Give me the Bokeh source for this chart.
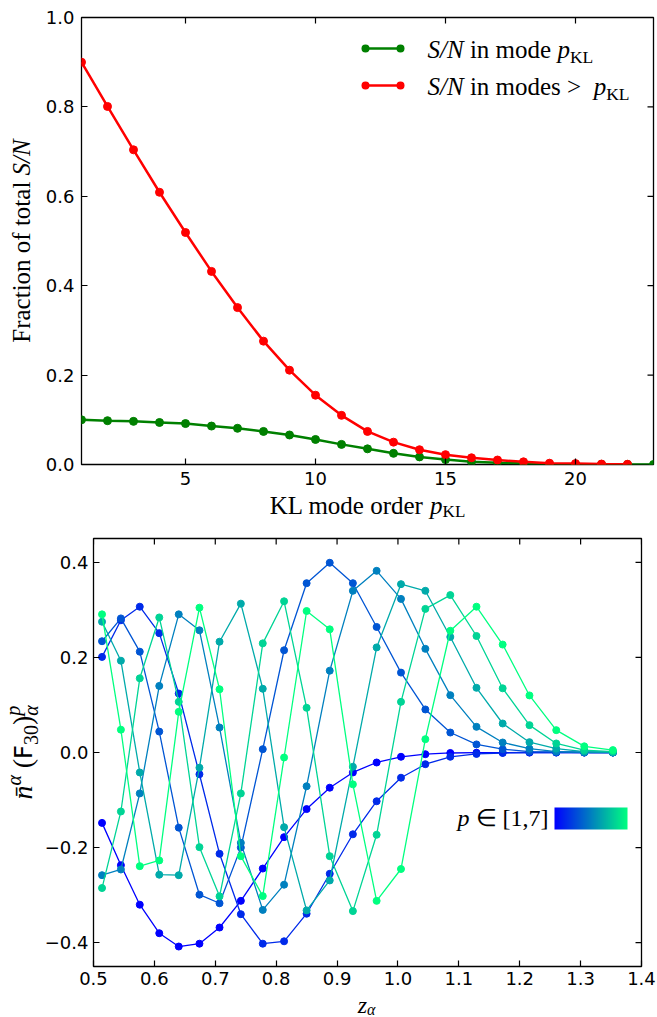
import math
from bokeh.plotting import figure
from bokeh.layouts import column, row
from bokeh.models import (Range1d, FixedTicker, Label, Arrow,
                          BoxAnnotation, ColorBar, LinearColorMapper)
from bokeh.embed import file_html
from bokeh.resources import INLINE

# ---------------- data: top panel ----------------
kl_mode_order = list(range(1, 24))
sn_in_mode = [0.100, 0.098, 0.0965, 0.094, 0.0916, 0.086, 0.081, 0.074, 0.066,
              0.056, 0.045, 0.035, 0.025, 0.017, 0.011, 0.006, 0.004, 0.002,
              0.001, 0.0005, 0.0003, 0.0002, 0.0001]
kl_mode_order_above = list(range(1, 23))
sn_in_modes_above = [0.900, 0.801, 0.704, 0.609, 0.519, 0.432, 0.351, 0.276,
                     0.211, 0.155, 0.110, 0.074, 0.050, 0.033, 0.022, 0.015,
                     0.010, 0.006, 0.003, 0.002, 0.001, 0.0005]
top_x_ticks = [5, 10, 15, 20]
top_y_ticks = [0.0, 0.2, 0.4, 0.6, 0.8, 1.0]

# ---------------- data: bottom panel ----------------
z_alpha = [0.514, 0.545, 0.576, 0.608, 0.640, 0.674, 0.707, 0.742, 0.778, 0.813,
           0.850, 0.888, 0.926, 0.965, 1.005, 1.045, 1.086, 1.129, 1.172, 1.216,
           1.260, 1.306, 1.353]
mode_p1 = [-0.148, -0.237, -0.320, -0.380, -0.408, -0.402, -0.368, -0.312, -0.244,
           -0.178, -0.119, -0.074, -0.042, -0.021, -0.009, -0.0036, -0.001,
           -0.0004, -0.0001, 0.0, 0.0, 0.0, 0.0]
mode_p2 = [0.201, 0.278, 0.3066, 0.251, 0.124, -0.0457, -0.213, -0.340, -0.402,
           -0.397, -0.339, -0.255, -0.172, -0.1025, -0.053, -0.0246, -0.009,
           -0.003, -0.001, 0.0, 0.0, 0.0, 0.0]
mode_p3 = [0.234, 0.282, 0.212, 0.044, -0.158, -0.299, -0.317, -0.200, 0.007,
           0.215, 0.356, 0.399, 0.356, 0.264, 0.168, 0.0905, 0.042, 0.017, 0.007,
           0.002, 0.001, 0.0, 0.0]
mode_p4 = [-0.258, -0.246, -0.086, 0.140, 0.2905, 0.257, 0.0526, -0.190, -0.331,
           -0.278, -0.071, 0.172, 0.340, 0.382, 0.323, 0.218, 0.1206, 0.054,
           0.021, 0.008, 0.002, 0.0005, 0.0]
mode_p5 = [0.275, 0.193, -0.042, -0.257, -0.258, -0.032, 0.233, 0.313, 0.134,
           -0.157, -0.332, -0.269, -0.030, 0.221, 0.354, 0.340, 0.243, 0.136,
           0.061, 0.0217, 0.008, 0.002, 0.0005]
mode_p6 = [-0.285, -0.124, 0.156, 0.284, 0.1065, -0.199, -0.3025, -0.086, 0.2295,
           0.318, 0.094, -0.218, -0.3335, -0.173, 0.1065, 0.302, 0.331, 0.245,
           0.135, 0.0575, 0.019, 0.005, 0.002]
mode_p7 = [0.2905, 0.048, -0.239, -0.227, 0.0855, 0.3045, 0.133, -0.218, -0.302,
           -0.0105, 0.2975, 0.259, -0.067, -0.312, -0.245, 0.028, 0.256, 0.3066,
           0.227, 0.120, 0.047, 0.013, 0.005]
mode_p = [1, 2, 3, 4, 5, 6, 7]
modes = [mode_p1, mode_p2, mode_p3, mode_p4, mode_p5, mode_p6, mode_p7]
bottom_x_ticks = [0.5, 0.6, 0.7, 0.8, 0.9, 1.0, 1.1, 1.2, 1.3, 1.4]
bottom_y_ticks = [-0.4, -0.2, 0.0, 0.2, 0.4]

# ---------------- styles ----------------
GREEN = "#008000"
RED = "#ff0000"
SERIF = "Liberation Serif"
TICK_FONT = "DejaVu Sans"
BASELINE_FIX = 0.32   # measured drop of Label text below its nominal baseline (x font size)


def winter(t):
    g = int(round(255 * t))
    b = int(round(255 * (1 - 0.5 * t)))
    return "#%02x%02x%02x" % (0, g, b)


WINTER = [winter(i / 255.0) for i in range(256)]

TIMES_R = {' ': 250, '(': 333, ')': 333, '/': 278, '>': 564, ',': 250, '[': 333,
           ']': 333, '\u2208': 667, 'K': 722, 'L': 611, 'F': 556, 'S': 556,
           'N': 722, 'a': 444, 'c': 444, 'd': 500, 'e': 444, 'f': 333, 'i': 278,
           'l': 278, 'm': 778, 'n': 500, 'o': 500, 'p': 500, 'r': 333, 's': 389,
           't': 278, 'u': 500}
for _d in "0123456789":
    TIMES_R[_d] = 500
TIMES_I = {' ': 250, 'S': 500, 'N': 667, '/': 278, 'p': 500, 'n': 500, 'z': 389,
           '\u03b1': 520, '\u0304': 0}
SANS = {'F': 575, ' ': 318}


def text_width(text, s):
    font = s.get("font", SERIF)
    if font != SERIF:
        tbl = SANS
    elif s.get("italic"):
        tbl = TIMES_I
    else:
        tbl = TIMES_R
    return sum(tbl.get(ch, 500) for ch in text) * s["size"] / 1000.0


def rich_text(fig, segs, x, y, angle=0.0, anchor="center"):
    """Place a run of text pieces; (x, y) = baseline anchor in frame px, y up."""
    widths = [text_width(s["text"], s) for s in segs]
    total = sum(w for s, w in zip(segs, widths) if s.get("advance", True))
    if anchor == "center":
        cur = -total / 2.0
    elif anchor == "right":
        cur = -total
    else:
        cur = 0.0
    for s, w in zip(segs, widths):
        raw = s["text"]
        body = raw.strip(" ")
        lead = text_width(raw[:len(raw) - len(raw.lstrip(" "))], s)
        shift = s.get("shift", 0.0) + BASELINE_FIX * s["size"]
        pos = cur + lead
        if angle == 0:
            lx, ly = x + pos, y + shift
        else:
            lx, ly = x - shift, y + pos
        fig.add_layout(Label(
            x=lx, y=ly, x_units="screen", y_units="screen", text=body,
            angle=angle, text_font=s.get("font", SERIF),
            text_font_size="%gpx" % s["size"],
            text_font_style="italic" if s.get("italic") else "normal",
            text_color="black", text_align="left", text_baseline="alphabetic"))
        if s.get("advance", True):
            cur += w


def style_fig(p, xticks, yticks, xlabels, ylabels, xr, yr, fw, fh, standoff=8):
    p.grid.visible = False
    p.outline_line_color = "black"
    p.outline_line_width = 1.3
    p.background_fill_color = "white"
    p.border_fill_color = "white"
    for ax, ticks, labels in ((p.xaxis[0], xticks, xlabels), (p.yaxis[0], yticks, ylabels)):
        ax.ticker = FixedTicker(ticks=ticks)
        ax.major_label_overrides = labels
        ax.major_label_text_font = TICK_FONT
        ax.major_label_text_font_size = "18px"
        ax.major_label_text_color = "black"
        ax.major_label_standoff = standoff
        ax.major_tick_in = 6
        ax.major_tick_out = 0
        ax.major_tick_line_color = "black"
        ax.major_tick_line_width = 1.2
        ax.minor_tick_line_color = None
        ax.axis_line_color = None
    # mirrored inward ticks on the top and right edges
    tick_len = 6.0
    dy = (yr[1] - yr[0]) / fh * tick_len
    dx = (xr[1] - xr[0]) / fw * tick_len
    p.segment(x0=xticks, y0=[yr[1]] * len(xticks), x1=xticks,
              y1=[yr[1] - dy] * len(xticks), line_color="black", line_width=1.2)
    p.segment(x0=[xr[1]] * len(yticks), y0=yticks, x1=[xr[1] - dx] * len(yticks),
              y1=yticks, line_color="black", line_width=1.2)


def fmt(v):
    return ("%.1f" % v).replace("-", "\u2212")


def label_fig(w, h):
    f = figure(width=w, height=h, x_range=Range1d(0, 1), y_range=Range1d(0, 1),
               x_axis_type=None, y_axis_type=None, output_backend="svg",
               toolbar_location=None, min_border=0)
    f.outline_line_color = None
    f.background_fill_color = "white"
    f.border_fill_color = "white"
    return f


# ---------------- top figure ----------------
TOP_XR, TOP_YR = (1, 23), (0, 1)
p1 = figure(width=617, height=492, x_range=Range1d(*TOP_XR), y_range=Range1d(*TOP_YR),
            output_backend="svg", toolbar_location=None,
            min_border_left=41, min_border_right=4, min_border_top=17,
            min_border_bottom=28)
style_fig(p1, top_x_ticks, top_y_ticks,
          {t: str(t) for t in top_x_ticks}, {t: fmt(t) for t in top_y_ticks},
          TOP_XR, TOP_YR, 572, 447, standoff=7)

p1.line(kl_mode_order, sn_in_mode, line_color=GREEN, line_width=2.5)
p1.scatter(kl_mode_order, sn_in_mode, size=8, fill_color=GREEN, line_color=GREEN)
p1.line(kl_mode_order_above, sn_in_modes_above, line_color=RED, line_width=2.5)
p1.scatter(kl_mode_order_above, sn_in_modes_above, size=8, fill_color=RED, line_color=RED)

# legend (frame-relative screen px)
legend_rows = [
    (GREEN, 416, 407, [dict(text="S/N", size=25, italic=True),
                       dict(text=" in mode ", size=25),
                       dict(text="p", size=25, italic=True),
                       dict(text="KL", size=17.5, shift=-5)]),
    (RED, 379, 370, [dict(text="S/N", size=25, italic=True),
                     dict(text=" in modes  > ", size=25),
                     dict(text="p", size=25, italic=True),
                     dict(text="KL", size=17.5, shift=-5)]),
]
for color, ly, by, segs in legend_rows:
    p1.add_layout(Arrow(x_start=284, y_start=ly, x_end=319, y_end=ly,
                        start_units="screen", end_units="screen", start=None, end=None,
                        line_color=color, line_width=2.5))
    for cx in (284, 319):
        p1.add_layout(BoxAnnotation(left=cx - 4, right=cx + 4, bottom=ly - 4, top=ly + 4,
                                    left_units="screen", right_units="screen",
                                    bottom_units="screen", top_units="screen",
                                    fill_color=color, fill_alpha=1.0, line_color=None,
                                    border_radius=4))
    rich_text(p1, segs, 346, by, anchor="left")

# y label strip (its frame is aligned with p1's frame: 447 px tall)
ylab1 = label_fig(40, 492)
rich_text(ylab1, [dict(text="Fraction of total ", size=25),
                  dict(text="S/N", size=25, italic=True)],
          29.3, 223.5, angle=math.pi / 2)
xlab1 = label_fig(657, 28)
rich_text(xlab1, [dict(text="KL mode order ", size=25),
                  dict(text="p", size=25, italic=True),
                  dict(text="KL", size=17, shift=-3.5)],
          367, 7)

# ---------------- bottom figure ----------------
BOT_XR, BOT_YR = (0.5, 1.4), (-0.45, 0.45)
p2 = figure(width=616, height=472, x_range=Range1d(*BOT_XR), y_range=Range1d(*BOT_YR),
            output_backend="svg", toolbar_location=None,
            min_border_left=50, min_border_right=16, min_border_top=18,
            min_border_bottom=26)
style_fig(p2, bottom_x_ticks, bottom_y_ticks,
          {t: fmt(t) for t in bottom_x_ticks}, {t: fmt(t) for t in bottom_y_ticks},
          BOT_XR, BOT_YR, 550, 428, standoff=5)

for pval, vals in zip(mode_p, modes):
    c = winter((pval - 1) / 6.0)
    p2.line(z_alpha, vals, line_color=c, line_width=1.3)
    p2.scatter(z_alpha, vals, size=7, fill_color=c, line_color=c)

# colour bar legend
mapper = LinearColorMapper(palette=WINTER, low=1, high=7)
cbar = ColorBar(color_mapper=mapper, orientation="horizontal", location=(461, 137),
                width=73, height=22, padding=0, title=None,
                ticker=FixedTicker(ticks=[]),
                major_tick_line_color=None, minor_tick_line_color=None,
                label_standoff=0, bar_line_color=None,
                background_fill_alpha=0.0, border_line_color=None)
p2.add_layout(cbar, "center")
rich_text(p2, [dict(text="p", size=24, italic=True),
               dict(text=" \u2208 [1,7]", size=24)],
          450, 141, anchor="right")

# y label strip (its frame is aligned with p2's frame: 428 px tall)
ylab2 = label_fig(41, 472)
rich_text(ylab2, [dict(text="n\u0304", size=28, italic=True),
                  dict(text="\u03b1", size=20, italic=True, shift=11),
                  dict(text=" (", size=28),
                  dict(text="F", size=24, font="DejaVu Sans"),
                  dict(text="30", size=20, shift=-6),
                  dict(text=")", size=28),
                  dict(text="p", size=20, italic=True, shift=12, advance=False),
                  dict(text="\u03b1", size=20, italic=True, shift=-6)],
          31, 214, angle=math.pi / 2)
xlab2 = label_fig(657, 25)
rich_text(xlab2, [dict(text="z", size=24, italic=True),
                  dict(text="\u03b1", size=16, italic=True, shift=-2)],
          366, 5)

layout = column(row(ylab1, p1, spacing=0), xlab1,
                row(ylab2, p2, spacing=0), xlab2, spacing=0)
open("out.html", "w").write(file_html(layout, INLINE))
